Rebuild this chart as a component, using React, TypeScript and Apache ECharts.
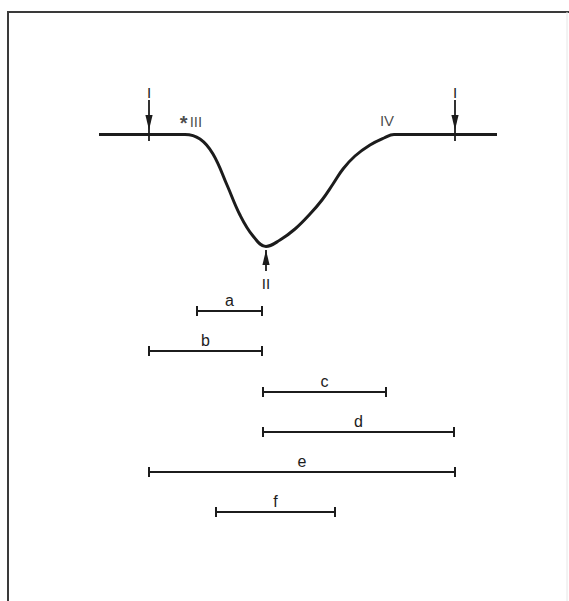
import React, { useEffect, useRef } from "react";
import * as echarts from "echarts";

// Light curve (x: time position, y: depth position)
const curveX = [99, 150, 185, 200, 213, 227, 240, 253, 266, 280, 295, 310, 322, 333, 343, 355, 370, 384, 394, 455, 497];
const curveY = [134.5, 134.5, 134.5, 139, 154, 185, 215, 236, 246.5, 240, 229, 214, 200, 184, 169, 156, 145, 138, 134.5, 134.5, 134.5];

// Contact arrows
const contactNames = ["I", "I", "II"];
const contactX = [149, 455, 266];
const contactTail = [100, 100, 271];
const contactTip = [130, 130, 250];
const contactEnd = [141, 141, 250];
const contactLabelY = [92, 92, 283];

// Free labels on the curve
const noteNames = ["{s|*}III", "IV"];
const noteX = [191, 387];
const noteY = [121, 120];

// Interval bars
const intervalNames = ["a", "b", "c", "d", "e", "f"];
const intervalStart = [197, 149, 263, 263, 149, 216];
const intervalEnd = [262, 262, 386, 454, 455, 335];
const intervalRow = [311, 351, 392, 432, 472, 512];

const INK = "#1c1c1c";
const FONT = "Liberation Sans";

export default function App() {
  const ref = useRef<HTMLDivElement>(null);
  useEffect(() => {
    if (!ref.current) return;
    const chart = echarts.init(ref.current, null, { renderer: "svg" });
    const curveData = curveX.map((x, i) => [x, curveY[i]]);
    const contactData = contactX.map((x, i) => [x, contactTail[i], contactTip[i], contactEnd[i], contactLabelY[i], i]);
    const intervalData = intervalNames.map((n, i) => [intervalStart[i], intervalEnd[i], intervalRow[i], i]);
    const noteData = noteNames.map((n, i) => ({ value: [noteX[i], noteY[i]], name: n }));

    chart.setOption({
      animation: false,
      backgroundColor: "#ffffff",
      color: [INK],
      grid: { left: 0, right: 0, top: 0, bottom: 0 },
      xAxis: { type: "value", min: 0, max: 569, show: false },
      yAxis: { type: "value", min: 0, max: 601, inverse: true, show: false },
      graphic: [
        { type: "line", shape: { x1: 7, y1: 12, x2: 569, y2: 12 }, style: { stroke: "#3a3a3a", lineWidth: 2 } },
        { type: "line", shape: { x1: 8, y1: 11, x2: 8, y2: 601 }, style: { stroke: "#3a3a3a", lineWidth: 2 } },
        { type: "line", shape: { x1: 567, y1: 12, x2: 567, y2: 601 }, style: { stroke: "#e6e6e6", lineWidth: 1 } },
      ],
      series: [
        {
          type: "line",
          data: curveData,
          smooth: 0.4,
          showSymbol: false,
          symbol: "none",
          itemStyle: { color: INK },
          lineStyle: { color: INK, width: 3 },
          silent: true,
        },
        {
          type: "custom",
          data: contactData,
          silent: true,
          itemStyle: { color: INK },
          renderItem: (params: any, api: any) => {
            const x = api.value(0);
            const tail = api.coord([x, api.value(1)]);
            const tip = api.coord([x, api.value(2)]);
            const end = api.coord([x, api.value(3)]);
            const lab = api.coord([x, api.value(4)]);
            const idx = api.value(5);
            const dir = tip[1] > tail[1] ? 1 : -1;
            const len = 15;
            const hw = 3.6;
            return {
              type: "group",
              children: [
                { type: "line", shape: { x1: tail[0], y1: tail[1], x2: end[0], y2: end[1] }, style: { stroke: INK, lineWidth: 1.8 } },
                {
                  type: "polygon",
                  shape: { points: [[tip[0], tip[1]], [tip[0] - hw, tip[1] - dir * len], [tip[0] + hw, tip[1] - dir * len]] },
                  style: { fill: INK },
                },
                {
                  type: "text",
                  x: lab[0],
                  y: lab[1],
                  style: { text: contactNames[idx], fill: INK, fontFamily: FONT, fontSize: 15, align: "center", verticalAlign: "middle" },
                },
              ],
            };
          },
        },
        {
          type: "scatter",
          data: noteData,
          symbolSize: 0,
          silent: true,
          itemStyle: { color: INK },
          label: {
            show: true,
            position: "inside",
            formatter: "{b}",
            color: INK,
            fontFamily: FONT,
            fontSize: 15,
            rich: {
              s: { fontFamily: FONT, fontSize: 20, fontWeight: "bold", color: INK, padding: [4, 2, 0, 0] },
            },
          },
        },
        {
          type: "custom",
          data: intervalData,
          silent: true,
          itemStyle: { color: INK },
          renderItem: (params: any, api: any) => {
            const y = api.value(2);
            const p1 = api.coord([api.value(0), y]);
            const p2 = api.coord([api.value(1), y]);
            const idx = api.value(3);
            const t = 5;
            return {
              type: "group",
              children: [
                { type: "line", shape: { x1: p1[0], y1: p1[1], x2: p2[0], y2: p2[1] }, style: { stroke: INK, lineWidth: 2 } },
                { type: "line", shape: { x1: p1[0], y1: p1[1] - t, x2: p1[0], y2: p1[1] + t }, style: { stroke: INK, lineWidth: 2 } },
                { type: "line", shape: { x1: p2[0], y1: p2[1] - t, x2: p2[0], y2: p2[1] + t }, style: { stroke: INK, lineWidth: 2 } },
                {
                  type: "text",
                  x: (p1[0] + p2[0]) / 2,
                  y: p1[1] - 3,
                  style: { text: intervalNames[idx], fill: INK, fontFamily: FONT, fontSize: 16, align: "center", verticalAlign: "bottom" },
                },
              ],
            };
          },
        },
      ],
    });
    return () => chart.dispose();
  }, []);

  return (
    <div
      ref={ref}
      style={{ position: "fixed", left: 0, top: 0, width: 569, height: 601, background: "#fff" }}
    />
  );
}
